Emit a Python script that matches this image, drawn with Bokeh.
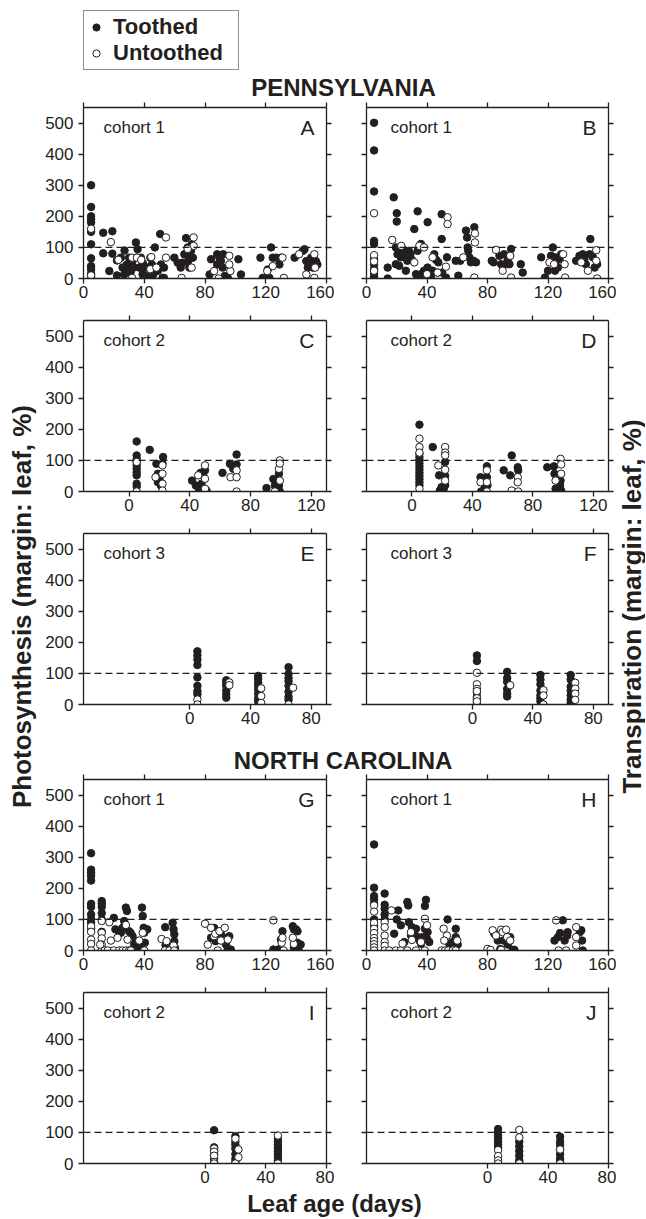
import math
from bokeh.plotting import figure
from bokeh.models import Range1d, LinearAxis, FixedTicker, Span, Label, Legend, LegendItem
from bokeh.layouts import row, column
from bokeh.embed import file_html
from bokeh.resources import INLINE
from bokeh.core.properties import value

# ---------------- data (leaf age in days, margin:leaf %) ----------------
Y_TICKS = [0, 100, 200, 300, 400, 500]
LEGEND_LABELS = ["Toothed", "Untoothed"]

# Pennsylvania cohort 1 - photosynthesis (A)
A_toothed = [(5,300),(5,230),(5,200),(5,190),(5,180),(5,150),(5,110),(5,65),(5,40),(5,30),(5,15),(5,5),
             (13,147),(13,81),(17,24),(19,152),(19,80),(22,58),(22,10),
             (24.6,67),(25.7,35),(26.8,13),(27,90),(28.6,45),(29,30),(30,67),(31,20),(32,50),(33,35),(34.5,116),
             (35.6,94),(35,67),(36.7,35),(37.8,67),(38.9,13),(39,50),(40,35),(41,8),(42,35),(43,2),(44,67),(45,45),
             (46,13),(47,100),(47.7,35),(49,25),(50.5,143),(51,45),(52,2),(53,2),(53,35),
             (59.8,67),(62,51),(64,35),(65.3,51),(66.4,78),(67.5,130),(68,78),(68.6,100),(69,56),(69.7,35),
             (70,67),(70.8,89),(71.2,110),(72,67),
             (84,62),(83,13),(88,78),(88,45),(89.5,67),(90.5,56),(91.6,35),(92,78),(93,8),(95,2),(102,62),(103.7,13),
             (116.5,67),(118,2),(120,2),(121.3,29),(122.4,2),(123.5,100),(124.6,67),(126.8,67),(129,45),(130,67),
             (139,67),(144.5,89),(145.5,94),(146.7,56),(147.7,35),(148.8,45),(149.9,67),(151,35),(153,56),(154,45)]
A_untoothed = [(5,160),(5,0),(5,10),(18,117),(23,60),(32,67),(32,2),(35.2,67),(38,60),(44,30),(44.6,69),(48,35),
               (54.3,132),(54.3,67),(64.6,2),(72.5,132),(72.5,105),(71.2,35),(68.6,95),(86,24),(89,0),(96,73),
               (96.7,24),(96,45),(121,24),(124.6,40),(131,67),(131.9,2),(142,78),(146.7,13),(152,78),(152.5,35),(152,2)]

# Pennsylvania cohort 1 - transpiration (B)
B_toothed = [(5,501),(5,412),(5,280),(5,121),(5,111),(5,62),(5,45),(5,30),(5,15),(5,5),
             (14,35),(14,0),(18,261),(20,210),(20,183),
             (19.4,100),(20.5,78),(21.6,89),(22.7,68),(24,95),(25,78),(19.4,46),(21.6,41),(26,25),(27,57),(28,89),
             (29,78),(30,60),(31.6,159),(33.8,216),(33.8,89),(36,111),(32.7,14),(34,9),(36,14),(37,3),(38,25),
             (40.4,181),(40.4,35),(42.6,3),(43.7,25),(44.8,78),(46,60),(47,19),(47.5,52),(49.7,207),(49.7,127),
             (50,19),(52.5,3),(53.2,68),
             (59,57),(60.7,9),(62,57),(65.8,154),(66.5,132),(66.9,100),(67.3,89),(68,68),(69,52),(70.8,57),
             (71.3,165),(72.4,52),
             (82.8,57),(84,52),(87.9,73),(89,46),(91,78),(92,46),(93.4,62),(94.5,46),(95.6,95),(102,46),(103.3,19),
             (115.5,68),(118,3),(120,25),(122,73),(123.2,100),(124.6,68),(125.4,57),(126.5,35),(127.6,62),
             (128.7,78),(124.6,25),
             (138.6,57),(140.8,73),(143,78),(144,62),(145,46),(147.5,78),(148,127),(149.7,68),(150.8,35),(152.5,46)]
B_untoothed = [(5,210),(5,75),(5,25),(5,55),(17,124),(23,105),(34.9,105),(31.6,52),(38,100),(40,14),(43.7,68),
               (52.5,38),(53.6,197),(53.6,175),(47,19),(64,68),(71.3,3),(71.7,145),(71.7,116),(85.6,92),(90,25),
               (95,73),(95.6,3),(121,52),(124,46),(130,78),(131,46),(131.3,3),(142,52),(146.4,25),(151.9,91),
               (151.9,57),(152.5,0)]

# Pennsylvania cohort 2 (C photosynthesis, D transpiration)
C_toothed = [(5,161),(5,116),(5,105),(5,95),(5,84),(5,73),(5,62),(5,52),(5,25),(5,16),(13.6,134),(18,89),(19,57),
             (19,30),(20,40),(21,19),(22.4,111),(22,90),
             (41.5,35),(44,19),(46,9),(47,60),(47.7,25),(48.8,52),(50,68),(51,3),
             (61.5,60),(66.4,89),(68.6,73),(70.8,119),(70.8,87),
             (90.5,11),(95,40),(96,19),(97,35),(98.7,57),(99.3,0),(98.7,19)]
C_untoothed = [(5,95),(5,0),(17.4,46),(22,84),(22,57),(22,25),(22,3),(45.5,52),(50,84),(50,41),(50,9),(66.8,46),
               (70.8,68),(70.8,46),(70.8,0),(96,0),(98.7,73),(99.3,100),(99.3,90),(99.3,35)]
D_toothed = [(5,215),(5,121),(5,110),(5,100),(5,90),(5,80),(5,70),(5,60),(5,50),(5,40),(5,30),(5,20),(13.8,143),
             (18,52),(18.5,3),(19.6,14),(21,8),(22,95),(22,50),(22,20),
             (45.4,46),(45.8,0),(48,9),(49.6,81),(49.6,46),(50,20),
             (60.7,68),(65,52),(66,116),(70,78),(70.3,68),
             (89.5,78),(93.9,81),(94.3,57),(95,9),(98,20),(98.3,35),(98.7,3)]
D_untoothed = [(5,170),(5,143),(5,125),(5,9),(17.5,84),(22,143),(22,125),(22,116),(22,70),(22,35),(45.4,30),
               (49.6,68),(49.6,30),(49.6,0),(66,3),(70,46),(70,30),(70.3,0),(98.3,105),(98.7,87),(98.7,57),(95,35)]

# Pennsylvania cohort 3 (E, F)
E_toothed = [(5,171),(5,158),(5,145),(5,127),(5,87),(5,60),(5,43),(5,33),
             (24,78),(24,70),(24,60),(24,45),(24,33),(24,22),
             (45,92),(45,82),(45,70),(45,60),(45,49),(45,35),(45,20),(45,10),
             (65,120),(65,98),(65,85),(65,75),(65,60),(65,41),(65,25),(65,15)]
E_untoothed = [(5,16),(5,0),(26,71),(26,62),(47,52),(47,27),(47,5),(68,54),(65,0)]
F_toothed = [(3,158),(3,140),(3,40),(3,25),(3,15),(3,5),
             (23,105),(23,85),(23,73),(23,50),(23,35),(23,26),
             (45,95),(45,80),(45,65),(45,45),(45,30),(45,20),(45,10),
             (65,95),(65,80),(65,57),(65,45),(65,30),(65,15),(65,5)]
F_untoothed = [(3,102),(3,65),(3,50),(3,43),(3,20),(3,10),(25,62),(47,46),(47,29),(47,0),(68,70),(68,51),
               (68,35),(68,15)]

# North Carolina cohort 1 (G, H)
G_toothed = [(5,313),(5,260),(5,250),(5,240),(5,225),(5,150),(5,140),(5,116),(5,100),(5,90),(5,70),
             (12,159),(12,150),(12,140),(12,120),(12,100),(12,60),
             (20,105),(21,68),(23.5,62),(24.6,57),(25.7,73),(26.8,95),(27.9,138),(28.6,127),(30,62),(31,57),
             (32.3,46),(33.4,19),(34.5,30),(35.6,9),(37.8,19),(38.5,138),(39,111),(39.6,73),(40,57),(42,68),(40.4,25),
             (53.8,75),(54,17),(55.4,9),(58.7,89),(59.3,68),(59.8,52),(59.8,30),(60.2,9),
             (84,41),(86,73),(87,30),(88.4,62),(90.5,52),(92.3,41),(93.8,19),(95,3),(97,3),(96,46),
             (125,3),(127,0),(128,3),(131,62),(130,35),(137.8,78),(138.5,68),(140,68),(140.9,62),(140.7,25),
             (141.7,0),(143,19),(138.5,9)]
G_untoothed = [(5,78),(5,60),(5,35),(5,21),(5,0),(12,95),(12,57),(12,39),(12,19),(12,0),(14,0),(16,0),(11,19),
               (17,91),(18,32),(20,0),(23.5,0),(25.7,0),(28,0),(30,0),(31.2,0),(22.4,41),(27.9,82),(29,35),
               (36.7,32),(40,0),(39,57),
               (51.4,37),(53.6,0),(56.5,0),(54.7,30),(59.3,16),(59.8,0),
               (80,86),(81.8,19),(84,73),(86,46),(86.8,54),(88.4,0),(89.5,62),(90.5,32),(93,73),(95,35),
               (125,97),(131.8,0),(130.5,25),(131,41),(138.5,21),(137.8,41)]
H_toothed = [(5,341),(5,202),(5,175),(5,165),(5,150),(5,100),(5,80),
             (12,183),(12,147),(12,135),(12,116),(12,100),
             (18.3,54),(21,129),(20,100),(22.7,81),(25,27),(27,156),(27.6,145),(28,91),(29.4,48),(30,75),
             (31.6,54),(32.7,70),(33.8,43),(35,32),(36,22),(37,43),(38.6,70),(39.3,163),(38.6,143),(40,38),
             (41.5,27),(40.4,59),
             (53.6,100),(54.7,22),(57,27),(59,70),(59,43),(60.3,19),
             (84.5,54),(86.8,32),(88.5,5),(90.7,32),(93.4,19),(95,43),(96.7,2),(97.8,2),
             (124.3,32),(126.5,43),(128,56),(129.8,97),(131,32),(132.7,48),(133,59),(141,59),(142,65),(143,0),
             (142.5,32)]
H_untoothed = [(5,145),(5,125),(5,89),(5,70),(5,56),(5,40),(5,30),(5,20),(5,10),(5,0),
               (12,91),(12,75),(12,48),(12,27),(12,15),(12,0),(15,0),(16.5,129),
               (19.4,0),(22.7,0),(23.8,22),(27,0),(29.4,59),(30,34),(32.7,0),(36,27),(38.6,102),(38.6,0),(40,81),
               (51,70),(53.2,48),(51.4,32),(49.7,0),(52,0),(54,0),(57,0),(59,0),(60,32),
               (80,5),(82,2),(83.4,65),(85.6,48),(89,67),(90,59),(92.3,67),(93,43),(95,32),(89,2),
               (125.4,97),(127,0),(132,0),(138.6,75),(138.6,43),(138.6,16)]

# North Carolina cohort 2 (I, J)
I_toothed = [(6,107),(6,52),(6,40),(6,30),(6,15),
             (20,88),(20,70),(20,60),(20,48),(20,30),(20,15),(20,5),
             (48,80),(48,70),(48,60),(48,50),(48,40),(48,30),(48,20),(48,10)]
I_untoothed = [(6,48),(6,38),(6,25),(6,5),(6,0),(20,80),(22,45),(22,20),(20,0),(48,90),(48,0)]
J_toothed = [(7,111),(7,100),(7,90),(7,80),(7,70),(7,60),(7,50),
             (21,70),(21,55),(21,40),(21,25),(21,10),(21,5),
             (48,86),(48,70),(48,60),(48,45),(48,30),(48,15),(48,5)]
J_untoothed = [(7,43),(7,24),(7,10),(7,0),(21,108),(21,84),(21,0),(48,45),(48,0)]

# ---------------- styling ----------------
FONT = "Liberation Sans"
INK = "#231f20"
FW_L, FW_R, FH = 243, 242, 171
Y_END = 550
MS = 7.5


def hide_labels(ax):
    ax.major_label_text_color = None
    ax.major_label_text_font_size = "0px"
    ax.major_label_standoff = 0


def style_axis(ax, ticks):
    ax.ticker = FixedTicker(ticks=ticks)
    ax.minor_tick_line_color = None
    ax.major_tick_in = 0
    ax.major_tick_out = 5
    ax.major_tick_line_color = INK
    ax.major_tick_line_width = 1.3
    ax.axis_line_color = INK
    ax.axis_line_width = 1.3
    ax.major_label_text_font = FONT
    ax.major_label_text_font_size = "17px"
    ax.major_label_text_color = INK


def make_panel(xr, xticks, toothed, untoothed, cohort, letter, side, top=8, bottom=34):
    if side == "L":
        bl, br, fw, cdx = 45, 8, FW_L, 20
    else:
        bl, br, fw, cdx = 32, 8, FW_R, 24
    p = figure(width=bl + fw + br, height=top + FH + bottom,
               x_range=Range1d(*xr), y_range=Range1d(0, Y_END),
               output_backend="svg", toolbar_location=None,
               min_border_left=bl, min_border_right=br, min_border_top=top, min_border_bottom=bottom,
               x_axis_location=None, y_axis_location=None)
    p.xgrid.grid_line_color = None
    p.ygrid.grid_line_color = None
    p.outline_line_color = None
    p.background_fill_color = "white"
    p.border_fill_color = "white"

    below = LinearAxis(); style_axis(below, xticks); below.major_label_standoff = 2
    p.add_layout(below, "below")
    left = LinearAxis(); style_axis(left, Y_TICKS); left.major_label_standoff = 5
    if side == "R":
        hide_labels(left)
    p.add_layout(left, "left")
    above = LinearAxis(); style_axis(above, xticks); hide_labels(above)
    p.add_layout(above, "above")
    right = LinearAxis(); style_axis(right, Y_TICKS); hide_labels(right)
    p.add_layout(right, "right")

    p.add_layout(Span(location=100, dimension="width", line_color=INK, line_width=1.4, line_dash="7 4"))

    tx = [a for a, b in toothed]; ty = [b for a, b in toothed]
    ux = [a for a, b in untoothed]; uy = [b for a, b in untoothed]
    p.scatter(tx, ty, marker="circle", size=MS, fill_color=INK, line_color=INK, line_width=1)
    p.scatter(ux, uy, marker="circle", size=MS, fill_color="white", line_color=INK, line_width=1)

    ppx = fw / (xr[1] - xr[0])
    ppy = FH / Y_END
    p.add_layout(Label(x=xr[0] + cdx / ppx, y=Y_END - 20 / ppy, text=cohort, text_font=FONT,
                       text_font_size="17px", text_color=INK, text_baseline="middle", text_align="left"))
    p.add_layout(Label(x=xr[1] - 12 / ppx, y=Y_END - 20 / ppy, text=letter, text_font=FONT,
                       text_font_size="21px", text_color=INK, text_baseline="middle", text_align="right"))
    return p


X160 = (0, 160); T160 = [0, 40, 80, 120, 160]
X130 = (-30, 130); T130 = [0, 40, 80, 120]
X90 = (-70, 90); T90 = [0, 40, 80]
X80 = (-80, 80); T80 = [0, 40, 80]

pA = make_panel(X160, T160, A_toothed, A_untoothed, "cohort 1", "A", "L", top=6)
pB = make_panel(X160, T160, B_toothed, B_untoothed, "cohort 1", "B", "R", top=6)
pC = make_panel(X130, T130, C_toothed, C_untoothed, "cohort 2", "C", "L")
pD = make_panel(X130, T130, D_toothed, D_untoothed, "cohort 2", "D", "R")
pE = make_panel(X90, T90, E_toothed, E_untoothed, "cohort 3", "E", "L", bottom=28)
pF = make_panel(X90, T90, F_toothed, F_untoothed, "cohort 3", "F", "R", bottom=28)
pG = make_panel(X160, T160, G_toothed, G_untoothed, "cohort 1", "G", "L", top=5)
pH = make_panel(X160, T160, H_toothed, H_untoothed, "cohort 1", "H", "R", top=5)
pI = make_panel(X80, T80, I_toothed, I_untoothed, "cohort 2", "I", "L", bottom=27)
pJ = make_panel(X80, T80, J_toothed, J_untoothed, "cohort 2", "J", "R", bottom=27)

COLW = 578
LEFTW, RIGHTW = 38, 29
HDR_H, NC_H, XL_H = 101, 42, 27
TOTAL_H = HDR_H + 211 + 213 + 207 + NC_H + 210 + 206 + XL_H


def blank(w, h):
    f = figure(width=w, height=h, x_range=Range1d(0, w), y_range=Range1d(0, h),
               output_backend="svg", toolbar_location=None, min_border=0,
               x_axis_location=None, y_axis_location=None)
    f.xgrid.grid_line_color = None
    f.ygrid.grid_line_color = None
    f.outline_line_color = None
    return f


def add_text(f, x, y, txt, size, angle=0.0):
    f.text(x=[x], y=[y], text=[txt], angle=angle, text_align="center", text_baseline="middle",
           text_font=value(FONT), text_font_style="bold", text_font_size=size, text_color=INK)


# header with legend and state title
hdr = blank(COLW, HDR_H)
nan = float("nan")
r_t = hdr.scatter(x=[nan], y=[nan], marker="circle", size=MS, fill_color=INK, line_color=INK)
r_u = hdr.scatter(x=[nan], y=[nan], marker="circle", size=MS, fill_color="white", line_color=INK)
leg = Legend(items=[LegendItem(label=LEGEND_LABELS[0], renderers=[r_t]),
                    LegendItem(label=LEGEND_LABELS[1], renderers=[r_u])],
             location=(83 - LEFTW, HDR_H - 70), orientation="vertical",
             label_text_font=FONT, label_text_font_style="bold", label_text_font_size="22px",
             label_text_color=INK, glyph_width=18, glyph_height=24, label_height=24, label_width=122,
             label_standoff=8, padding=3, spacing=0, margin=0,
             border_line_color=INK, border_line_width=1.3, background_fill_color="white",
             background_fill_alpha=1.0)
hdr.add_layout(leg)
add_text(hdr, 343 - LEFTW, HDR_H - 87, "PENNSYLVANIA", "24px")

nc = blank(COLW, NC_H)
add_text(nc, 342.5 - LEFTW, 14, "NORTH CAROLINA", "24px")

xl = blank(COLW, XL_H)
add_text(xl, 334 - LEFTW, 14, "Leaf age (days)", "24px")

left_lab = blank(LEFTW, TOTAL_H)
add_text(left_lab, 21, TOTAL_H - 606, "Photosynthesis (margin: leaf, %)", "26px", angle=math.pi / 2)
right_lab = blank(RIGHTW, TOTAL_H)
add_text(right_lab, 15, TOTAL_H - 606, "Transpiration (margin: leaf, %)", "26px", angle=math.pi / 2)

grid = column(hdr, row(pA, pB), row(pC, pD), row(pE, pF), nc, row(pG, pH), row(pI, pJ), xl)
layout = row(left_lab, grid, right_lab)

open("out.html", "w").write(file_html(layout, INLINE))
